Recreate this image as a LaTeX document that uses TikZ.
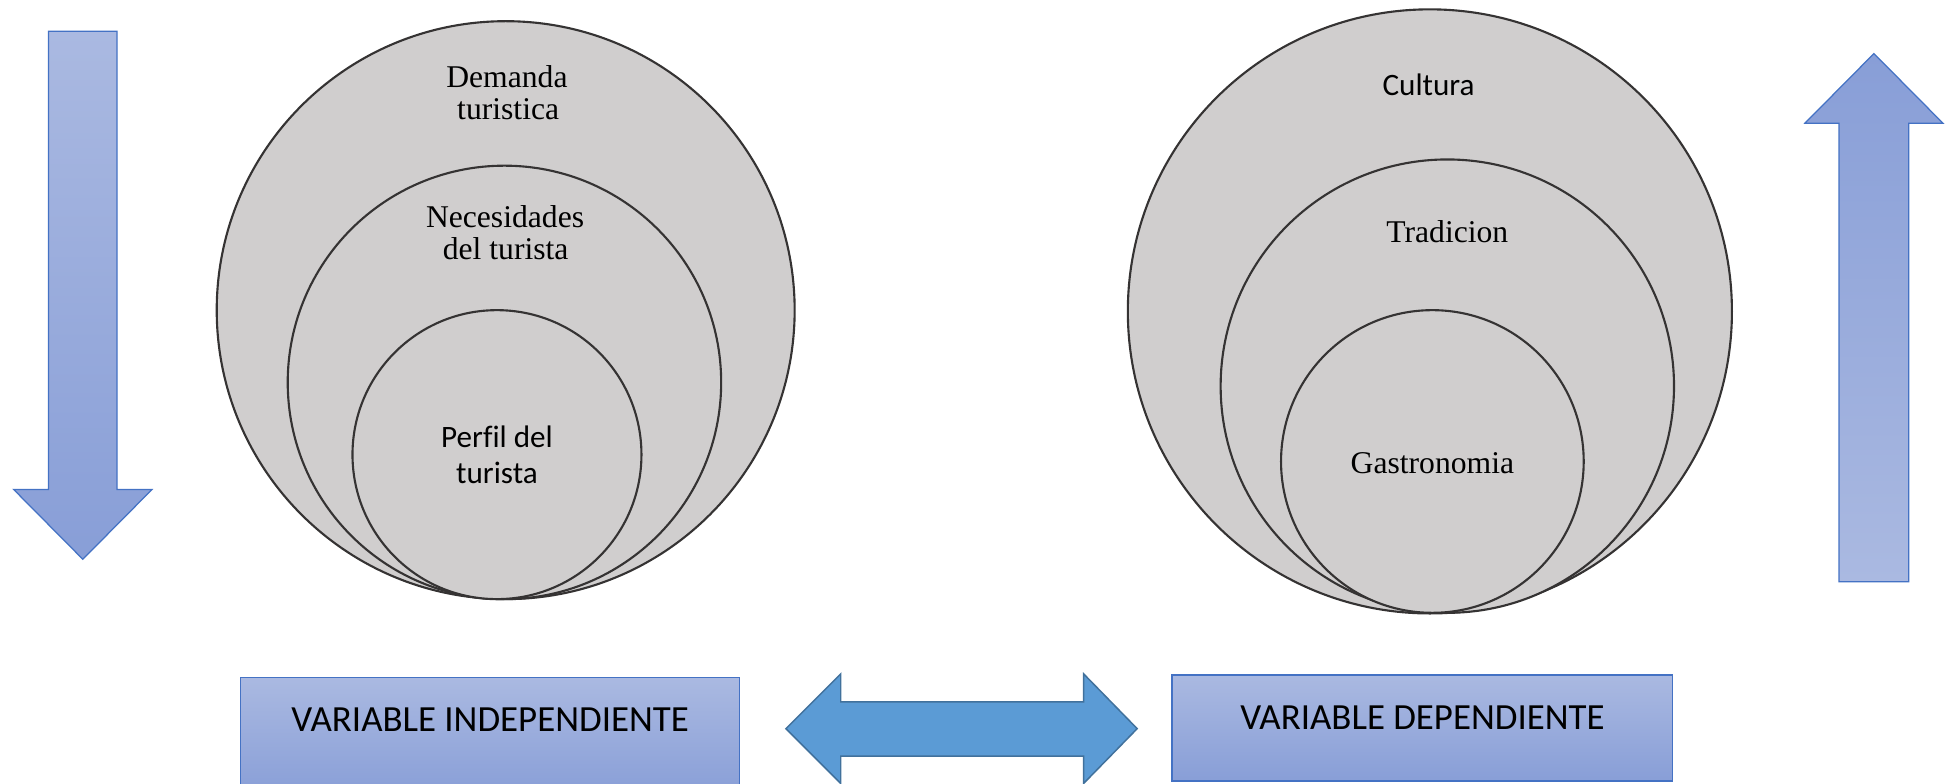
\documentclass[tikz,border=0pt]{standalone}
\usepackage{fontspec}
\setmainfont{Liberation Serif}
\newfontfamily\bodysans[Ligatures=NoCommon]{Carlito}
\definecolor{ringfill}{HTML}{D0CECE}
\definecolor{ringline}{HTML}{353333}
\definecolor{gradlight}{HTML}{AAB9E1}
\definecolor{graddark}{HTML}{889ED7}
\definecolor{accentline}{HTML}{4472C4}
\definecolor{linkfill}{HTML}{5B9BD5}
\definecolor{linkline}{HTML}{41719C}
\begin{document}
\begin{tikzpicture}[x=0.5pt, y=-0.5pt,
  ring/.style={circle, draw=ringline, fill=ringfill, line width=0.85pt, inner sep=0pt},
  serif label/.style={anchor=base, inner sep=0pt, font=\fontsize{12.7}{15}\selectfont},
  sans label/.style={anchor=base, inner sep=0pt, font=\bodysans\fontsize{12.5}{15}\selectfont},
  box label/.style={inner sep=0pt, font=\bodysans\fontsize{14.8}{17}\selectfont},
  block down/.style={draw=accentline, line width=0.5pt, top color=gradlight, bottom color=graddark},
  block up/.style={draw=accentline, line width=0.5pt, top color=graddark, bottom color=gradlight},
  link arrow/.style={draw=linkline, line width=0.6pt, fill=linkfill}]
\useasboundingbox (0,0) rectangle (1568,629);

% left block arrow pointing down
\path[block down] (39,25) -- (94,25) -- (94,393) -- (122,393) -- (66.5,449)
  -- (11,393) -- (39,393) -- cycle;

% right block arrow pointing up
\path[block up] (1476.5,467) -- (1532.5,467) -- (1532.5,99) -- (1560,99)
  -- (1504.5,43) -- (1449,99) -- (1476.5,99) -- cycle;

% nested rings of the independent variable
\node[ring, minimum size=232pt] (demanda) at (406,249) {};
\node[ring, minimum size=174pt] (necesidades) at (405,307) {};
\node[ring, minimum size=116pt] (perfil) at (399,365) {};

\node[serif label] (demA) at (407,70.5) {Demanda};
\node[serif label] (demB) at (408,95.6) {turistica};
\node[serif label] (necA) at (405.5,183) {Necesidades};
\node[serif label] (necB) at (406,208.7) {del turista};
\node[sans label] (perA) at (399,359.5) {Perfil del};
\node[sans label] (perB) at (399,388) {turista};

% nested rings of the dependent variable
\node[ring, minimum size=242.5pt] (cultura) at (1148,250) {};
\node[ring, minimum size=182pt] (tradicion) at (1162,310) {};
\node[ring, minimum size=121.5pt] (gastronomia) at (1150,370.5) {};

\node[sans label] (culA) at (1147,76.5) {Cultura};
\node[serif label] (traA) at (1162,194.5) {Tradicion};
\node[serif label] (gasA) at (1150,380) {Gastronomia};

% variable boxes
\path[block down] (193,544) rectangle (594,640);
\node[box label] (indep) at (393.5,577.7) {VARIABLE INDEPENDIENTE};
\path[block down] (941,542) rectangle (1343,627);
\node[box label] (dep) at (1142,576) {VARIABLE DEPENDIENTE};

% two-headed link between the boxes
\path[link arrow] (631,585) -- (675,541) -- (675,563.5) -- (870,563.5) -- (870,541)
  -- (913,585) -- (870,629) -- (870,607) -- (675,607) -- (675,629) -- cycle;
\end{tikzpicture}
\end{document}
